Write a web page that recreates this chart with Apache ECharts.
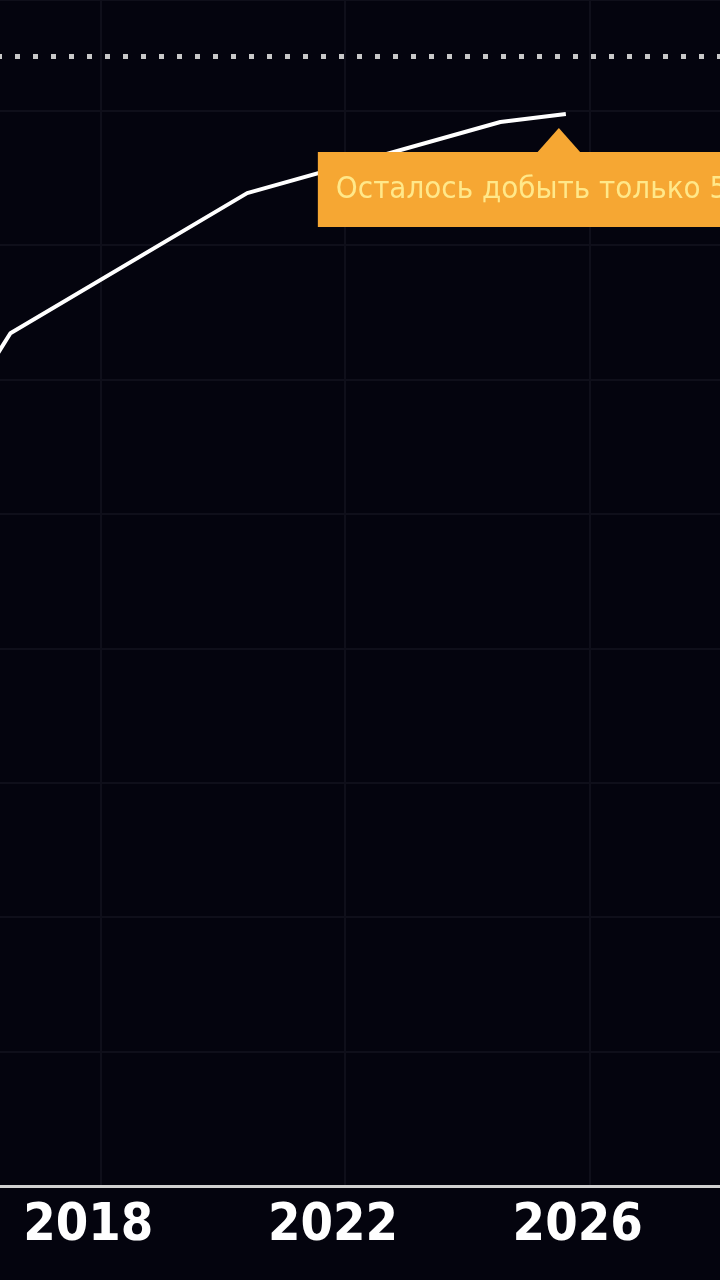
<!DOCTYPE html>
<html>
  <head>
    <meta charset="utf-8" />
    <title>ECharts</title>
    <style type="text/css">
      html,
      body {
        margin: 0;
        padding: 0;
        width: 100%;
        height: 100%;
        background: #04040e;
      }
    </style>
    <script src="https://cdn.jsdelivr.net/npm/echarts@6/dist/echarts.min.js"></script>
  </head>
  <body>
    <div id="chart" style="width: 720px; height: 1280px"></div>
    <script type="text/javascript">
      // годы и доля добытых запасов, %
      var years = [2016.3, 2016.53, 2020.4, 2024.54, 2025.61];
      var shares = [73.5, 75.5, 87.9, 94.2, 94.9];
      var tickYears = [2018, 2022, 2026];
      var totalLevel = 100;
      var calloutText = "Осталось добыть только 5%";

      var chart = echarts.init(document.getElementById("chart"));

      var points = years.map((y, i) => [y, shares[i]]);
      var last = points[points.length - 1];

      var option = {
        backgroundColor: "#04040e",
        animation: false,
        grid: { left: 0, right: 0, top: 0, bottom: 94 },
        xAxis: {
          type: "value",
          min: 2016.36,
          max: 2028.13,
          axisLine: { lineStyle: { color: "#d0d0d0", width: 3 } },
          axisTick: { show: false, customValues: tickYears },
          axisLabel: {
            customValues: tickYears,
            color: "#ffffff",
            fontFamily: "DejaVu Sans Condensed",
            fontWeight: "bold",
            fontSize: 52,
            margin: 14,
            padding: [0, 24, 0, 0],
            formatter: (v) => String(v),
          },
          splitLine: { show: true, lineStyle: { color: "#0f0f1a", width: 2 } },
        },
        yAxis: {
          type: "value",
          min: 0,
          max: 105,
          interval: 11.9,
          axisLine: { show: false },
          axisTick: { show: false },
          axisLabel: { show: false },
          splitLine: { show: true, lineStyle: { color: "#0f0f1a", width: 2 } },
        },
        series: [
          {
            type: "line",
            data: points,
            symbol: "none",
            lineStyle: { color: "#ffffff", width: 4 },
            markLine: {
              silent: true,
              symbol: "none",
              label: { show: false },
              lineStyle: {
                color: "#c8c8c8",
                width: 5,
                type: [5, 13],
                dashOffset: 3,
              },
              data: [{ yAxis: totalLevel }],
            },
            markPoint: {
              silent: true,
              data: [
                {
                  coord: last,
                  symbol: "triangle",
                  symbolSize: [46, 26],
                  symbolOffset: [-7, 27],
                  itemStyle: { color: "#f6a733" },
                  label: {
                    show: true,
                    position: [-218, 24],
                    formatter: calloutText,
                    color: "#ffe88a",
                    fontFamily: "DejaVu Sans Condensed",
                    fontSize: 31,
                    backgroundColor: "#f6a733",
                    lineHeight: 75,
                    height: 75,
                    padding: [0, 40, 0, 18],
                  },
                },
              ],
            },
          },
        ],
      };
      chart.setOption(option);
    </script>
  </body>
</html>
